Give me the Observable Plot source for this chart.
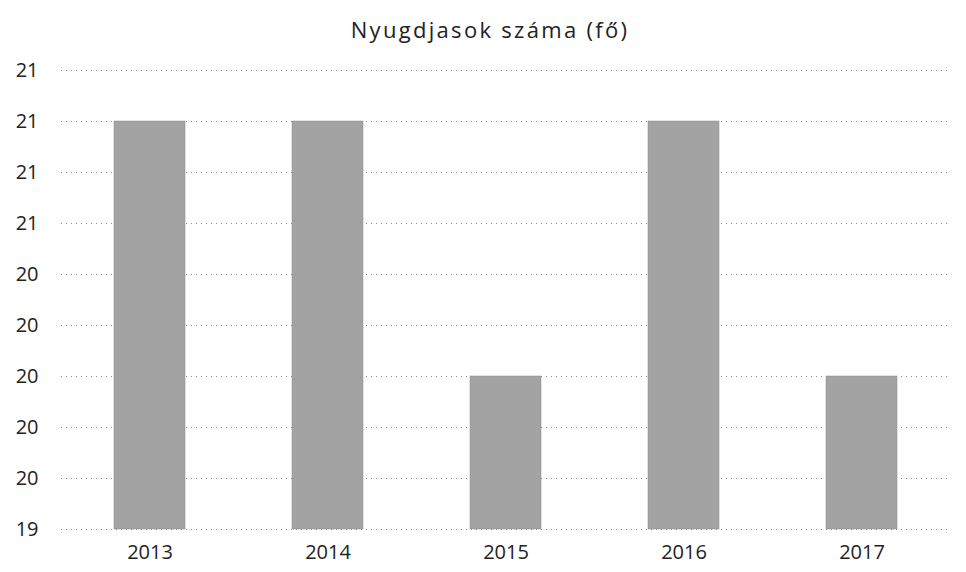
<!DOCTYPE html>
<html>
<head>
<meta charset="utf-8">
<script src="https://cdn.jsdelivr.net/npm/d3@7"></script>
<script src="https://cdn.jsdelivr.net/npm/@observablehq/plot@0.6"></script>
<style>
  body { margin: 0; background: #fff; font-family: "Open Sans", sans-serif; }
  #title { height: 45px; line-height: 58px; text-align: center; font-size: 22px; letter-spacing: 2.3px; color: #222; padding-left: 14px; box-sizing: border-box; position: relative; z-index: 1; }
</style>
</head>
<body>
<div id="title">Nyugdjasok száma (fő)</div>
<div id="chart"></div>
<script>
const years = ["2013", "2014", "2015", "2016", "2017"];
const values = [21, 21, 20, 21, 20];
const yTicks = [19.4, 19.6, 19.8, 20.0, 20.2, 20.4, 20.6, 20.8, 21.0, 21.2];
const yMin = 19.4, yMax = 21.2;

const data = years.map((y, i) => ({year: y, value: values[i]}));

const chart = Plot.plot({
  width: 966,
  height: 527,
  marginLeft: 61,
  marginRight: 15,
  marginTop: 25,
  marginBottom: 43,
  style: {fontFamily: "Open Sans, sans-serif", fontSize: "20px", color: "#222", background: "transparent"},
  x: {domain: years, paddingInner: 0.6, paddingOuter: 0.3, label: null, tickSize: 0, tickPadding: 15},
  y: {domain: [yMin, yMax], ticks: yTicks, tickFormat: d => Math.round(d), label: null, tickSize: 0, tickPadding: 23},
  marks: [
    Plot.ruleY(yTicks, {stroke: "#888", strokeDasharray: "1,4", strokeWidth: 1}),
    Plot.barY(data, {x: "year", y1: yMin, y2: "value", fill: "#a3a3a3", stroke: "#8a8a8a", strokeWidth: 0.5})
  ]
});
document.getElementById("chart").appendChild(chart);
</script>
</body>
</html>
